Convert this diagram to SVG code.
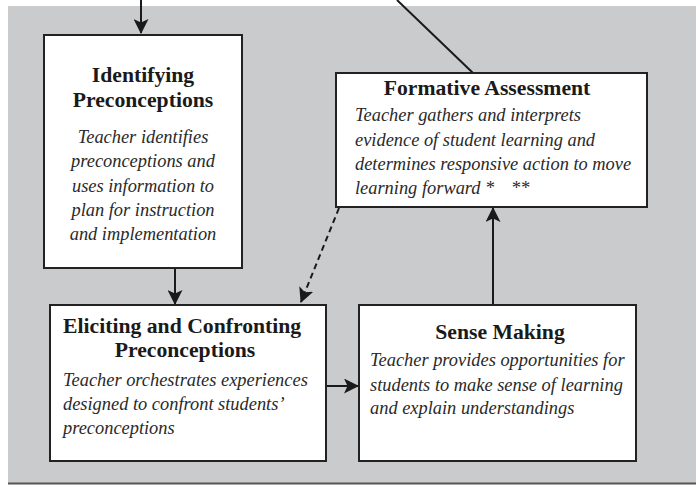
<svg xmlns="http://www.w3.org/2000/svg" width="696" height="485" viewBox="0 0 696 485">
<defs>
<style>
.box{fill:#fff;stroke:#222;stroke-width:2}
.ttl{font-family:"Liberation Serif",serif;font-weight:bold;font-size:21.7px;fill:#1a1a1a}
.bd{font-family:"Liberation Serif",serif;font-style:italic;font-size:18.4px;fill:#2a2a2a}
.ln{stroke:#1a1a1a;stroke-width:2;fill:none}
</style>
<marker id="ah2" viewBox="0 0 15 15" refX="14" refY="7.5" markerWidth="15" markerHeight="15" markerUnits="userSpaceOnUse" orient="auto">
<path d="M0,0 L15,7.5 L0,15 L3.5,7.5 Z" fill="#1a1a1a"/>
</marker>
</defs>
<rect x="0" y="0" width="696" height="485" fill="#fff"/>
<rect x="8" y="6" width="690" height="477" fill="#cacbcd"/>
<line x1="8" y1="483.5" x2="696" y2="483.5" stroke="#555" stroke-width="2"/>

<g id="connectors">
<line class="ln" x1="141" y1="0" x2="141" y2="33" marker-end="url(#ah2)"/>
<line class="ln" x1="397" y1="0" x2="473" y2="73"/>
<line class="ln" x1="175" y1="268" x2="175" y2="304" marker-end="url(#ah2)"/>
<line class="ln" x1="339" y1="208" x2="301" y2="302" stroke-dasharray="6,4" marker-end="url(#ah2)"/>
<line class="ln" x1="326" y1="386" x2="358" y2="386" marker-end="url(#ah2)"/>
<line class="ln" x1="493" y1="305" x2="493" y2="208" marker-end="url(#ah2)"/>
</g>

<g id="identifying">
<rect class="box" x="44" y="35" width="198" height="233"/>
<text class="ttl" x="143" y="82" text-anchor="middle">Identifying</text>
<text class="ttl" x="143" y="107" text-anchor="middle">Preconceptions</text>
<text class="bd" x="143" y="143" text-anchor="middle">Teacher identifies</text>
<text class="bd" x="143" y="167" text-anchor="middle">preconceptions and</text>
<text class="bd" x="143" y="192" text-anchor="middle">uses information to</text>
<text class="bd" x="143" y="216" text-anchor="middle">plan for instruction</text>
<text class="bd" x="143" y="240" text-anchor="middle">and implementation</text>
</g>

<g id="formative">
<rect class="box" x="336" y="73" width="311" height="134"/>
<text class="ttl" x="487" y="95" text-anchor="middle">Formative Assessment</text>
<text class="bd" x="355" y="121">Teacher gathers and interprets</text>
<text class="bd" x="355" y="146">evidence of student learning and</text>
<text class="bd" x="355" y="170">determines responsive action to move</text>
<text class="bd" x="355" y="194">learning forward *<tspan x="511">**</tspan></text>
</g>

<g id="eliciting">
<rect class="box" x="50" y="305" width="276" height="156"/>
<text class="ttl" x="63" y="333">Eliciting and Confronting</text>
<text class="ttl" x="185" y="357" text-anchor="middle">Preconceptions</text>
<text class="bd" x="63" y="386">Teacher orchestrates experiences</text>
<text class="bd" x="63" y="410">designed to confront students’</text>
<text class="bd" x="63" y="434">preconceptions</text>
</g>

<g id="sensemaking">
<rect class="box" x="359" y="305" width="277" height="156"/>
<text class="ttl" x="500" y="339" text-anchor="middle">Sense Making</text>
<text class="bd" x="370" y="366">Teacher provides opportunities for</text>
<text class="bd" x="370" y="391">students to make sense of learning</text>
<text class="bd" x="370" y="414">and explain understandings</text>
</g>
</svg>
